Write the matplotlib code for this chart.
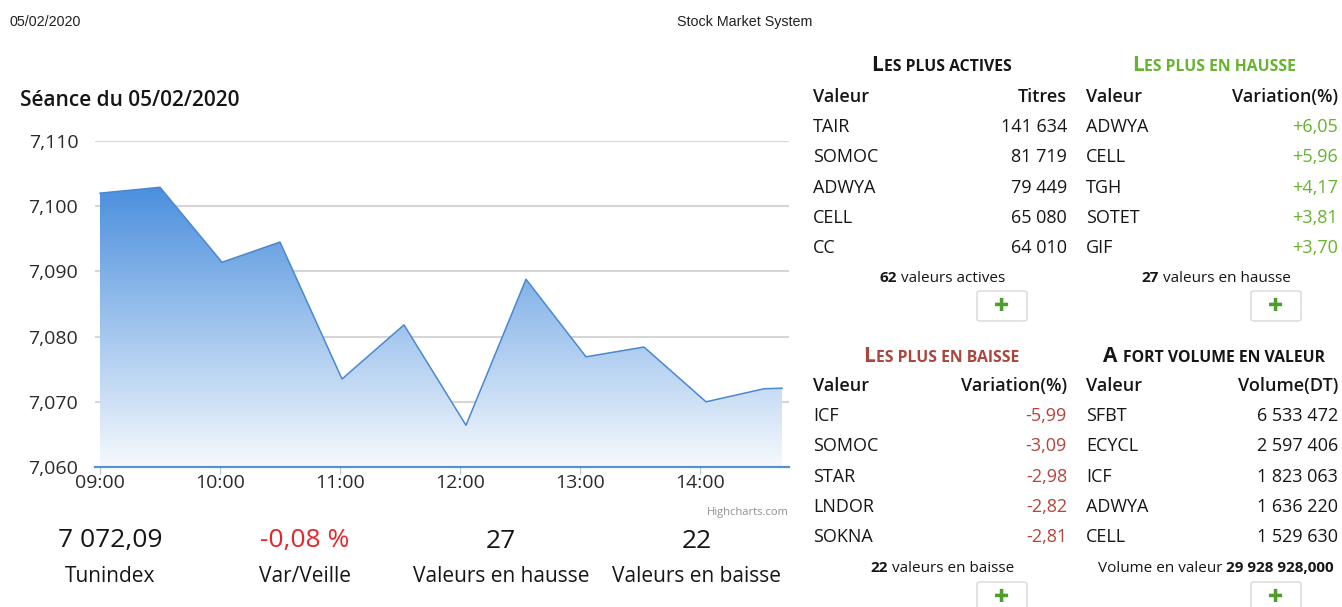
import numpy as np
import matplotlib.pyplot as plt
from matplotlib.colors import LinearSegmentedColormap
from matplotlib.patches import FancyBboxPatch

W, H = 1342, 607
POLICE = "Open Sans"

# Séance du 05/02/2020 - Tunindex
heures = ["09:00", "09:30", "10:01", "10:30", "11:01", "11:32", "12:03",
          "12:33", "13:03", "13:32", "14:03", "14:32", "14:41"]
indice = [7102.0, 7102.9, 7091.4, 7094.5, 7073.5, 7081.8, 7066.4,
          7088.8, 7076.9, 7078.4, 7070.0, 7072.0, 7072.09]
ticks_heures = ["09:00", "10:00", "11:00", "12:00", "13:00", "14:00"]
ticks_indice = [7060, 7070, 7080, 7090, 7100, 7110]

# tableaux
actives_valeur = ["TAIR", "SOMOC", "ADWYA", "CELL", "CC"]
actives_titres = ["141 634", "81 719", "79 449", "65 080", "64 010"]
hausse_valeur = ["ADWYA", "CELL", "TGH", "SOTET", "GIF"]
hausse_var = ["+6,05", "+5,96", "+4,17", "+3,81", "+3,70"]
baisse_valeur = ["ICF", "SOMOC", "STAR", "LNDOR", "SOKNA"]
baisse_var = ["-5,99", "-3,09", "-2,98", "-2,82", "-2,81"]
volume_valeur = ["SFBT", "ECYCL", "ICF", "ADWYA", "CELL"]
volume_dt = ["6 533 472", "2 597 406", "1 823 063", "1 636 220", "1 529 630"]

# chiffres du bas
stats_nombres = ["7 072,09", "-0,08 %", "27", "22"]
stats_libelles = ["Tunindex", "Var/Veille", "Valeurs en hausse", "Valeurs en baisse"]

VERT = "#66b32e"
ROUGE_BRUN = "#a9463d"
NOIR = "#161616"


def fx(x):
    return x / W


def fy(y):
    return 1 - y / H


def en_minutes(h):
    hh, mm = h.split(":")
    return (int(hh) - 9) * 60 + int(mm)


fig = plt.figure(figsize=(W / 100, H / 100), dpi=100)
rend = fig.canvas.get_renderer()

# ---- graphique
ax = fig.add_axes([fx(95), fy(467), (789 - 95) / W, (467 - 141) / H])
x = np.array([en_minutes(h) for h in heures])
y = np.array(indice)

cmap = LinearSegmentedColormap.from_list("degrade", ["#f6f9fd", "#2f7ed8"])
grad = np.linspace(0, 1, 256).reshape(-1, 1)
im = ax.imshow(grad, extent=[x[0], x[-1], 7060, 7110], origin="lower",
               aspect="auto", cmap=cmap, zorder=2)
zone = ax.fill_between(x, y, 7060, color="none")
im.set_clip_path(zone.get_paths()[0], transform=ax.transData)
ax.plot(x, y, color="#4a88d0", lw=1.1, zorder=3)

ax.set_xlim(-2.5, 344.5)
ax.set_ylim(7060, 7110)
ax.set_yticks(ticks_indice)
ax.set_yticklabels([f"{v:,}" for v in ticks_indice])
ax.set_xticks([en_minutes(h) for h in ticks_heures])
ax.set_xticklabels(ticks_heures)
ax.grid(axis="y", color="#d6d6d6", lw=1.5)
ax.set_axisbelow(True)
for s in ["top", "right", "left"]:
    ax.spines[s].set_visible(False)
ax.spines["bottom"].set_color("#5b8fd0")
ax.spines["bottom"].set_linewidth(1.6)
ax.tick_params(axis="y", length=0, pad=12, labelsize=14, labelcolor="#2a2a2a")
ax.tick_params(axis="x", length=5, color="#b8c8dc", pad=0, labelsize=14,
               labelcolor="#2a2a2a")
for t in ax.get_xticklabels() + ax.get_yticklabels():
    t.set_fontfamily(POLICE)

# ---- textes
fig.text(fx(10), fy(22), "05/02/2020", fontsize=10.3, family="Liberation Sans",
         va="center", color="#222222")
fig.text(fx(745), fy(22), "Stock Market System", fontsize=10.3,
         family="Liberation Sans", va="center", ha="center", color="#222222")
fig.text(fx(20), fy(101), "Séance du 05/02/2020", fontsize=15, family=POLICE,
         weight="semibold", va="center", color=NOIR)
fig.text(fx(789), fy(512), "Highcharts.com", fontsize=8, family=POLICE,
         ha="right", va="center", color="#909090")

centres = [110, 305, 501, 697]
for cx, n, lib in zip(centres, stats_nombres, stats_libelles):
    couleur = "#e2282b" if n.startswith("-") else NOIR
    fig.text(fx(cx), fy(541), n, fontsize=19, family=POLICE, ha="center",
             va="center", color=couleur)
    fig.text(fx(cx), fy(576), lib, fontsize=15, family=POLICE, ha="center",
             va="center", color=NOIR)


def composer(cx, base, morceaux, ecart=0):
    arts = []
    for s, kw in morceaux:
        arts.append(fig.text(0, fy(base), s, va="baseline", family=POLICE, **kw))
    largeurs = [a.get_window_extent(rend).width for a in arts]
    pos = cx - (sum(largeurs) + ecart * (len(arts) - 1)) / 2
    for a, w in zip(arts, largeurs):
        a.set_x(fx(pos))
        pos += w + ecart


def titre(cx, base, lettre, reste, couleur, ecart=1):
    composer(cx, base, [(lettre, dict(fontsize=15, weight="bold", color=couleur)),
                        (reste, dict(fontsize=11.3, weight="bold", color=couleur))],
             ecart=ecart)


def bouton(cx, cy):
    b = FancyBboxPatch((fx(cx - 25), fy(cy + 15)), 50 / W, 30 / H,
                       boxstyle="round,pad=0,rounding_size=0.003",
                       transform=fig.transFigure, fc="white", ec="#d9d9d9", lw=1)
    fig.patches.append(b)
    fig.text(fx(cx), fy(cy), "\u271a", fontsize=13, family="DejaVu Sans",
             ha="center", va="center", color="#4e9e2c")


def tableau(x_g, x_d, y0, noms, vals, entete, couleur_val):
    kw = dict(fontsize=13, family=POLICE, va="center", color=NOIR)
    fig.text(fx(x_g), fy(y0), "Valeur", **dict(kw, weight="semibold"))
    fig.text(fx(x_d), fy(y0), entete, ha="right", **dict(kw, weight="semibold"))
    for i, (n, v) in enumerate(zip(noms, vals)):
        yy = y0 + 30.2 * (i + 1)
        fig.text(fx(x_g), fy(yy), n, **kw)
        fig.text(fx(x_d), fy(yy), v, ha="right", **dict(kw, color=couleur_val))


# panneau haut
titre(941, 71, "L", "ES PLUS ACTIVES", NOIR)
titre(1214, 71, "L", "ES PLUS EN HAUSSE", VERT)
tableau(813, 1067, 97, actives_valeur, actives_titres, "Titres", NOIR)
tableau(1086, 1338, 97, hausse_valeur, hausse_var, "Variation(%)", VERT)
composer(942, 282, [("62", dict(fontsize=11, weight="bold", color=NOIR)),
                    ("valeurs actives", dict(fontsize=11, color=NOIR))], ecart=4)
composer(1216, 282, [("27", dict(fontsize=11, weight="bold", color=NOIR)),
                     ("valeurs en hausse", dict(fontsize=11, color=NOIR))], ecart=4)
bouton(1002, 306)
bouton(1276, 306)

# panneau bas
titre(941, 362, "L", "ES PLUS EN BAISSE", ROUGE_BRUN)
titre(1214, 362, "A", "FORT VOLUME EN VALEUR", NOIR, ecart=5)
tableau(813, 1067, 386, baisse_valeur, baisse_var, "Variation(%)", "#b5443c")
tableau(1086, 1338, 386, volume_valeur, volume_dt, "Volume(DT)", NOIR)
composer(942, 572, [("22", dict(fontsize=11, weight="bold", color=NOIR)),
                    ("valeurs en baisse", dict(fontsize=11, color=NOIR))], ecart=4)
composer(1216, 572, [("Volume en valeur", dict(fontsize=11, color=NOIR)),
                     ("29 928 928,000", dict(fontsize=11, weight="bold", color=NOIR))],
         ecart=4)
bouton(1002, 597)
bouton(1276, 597)

fig.savefig("out.png", dpi=100)
